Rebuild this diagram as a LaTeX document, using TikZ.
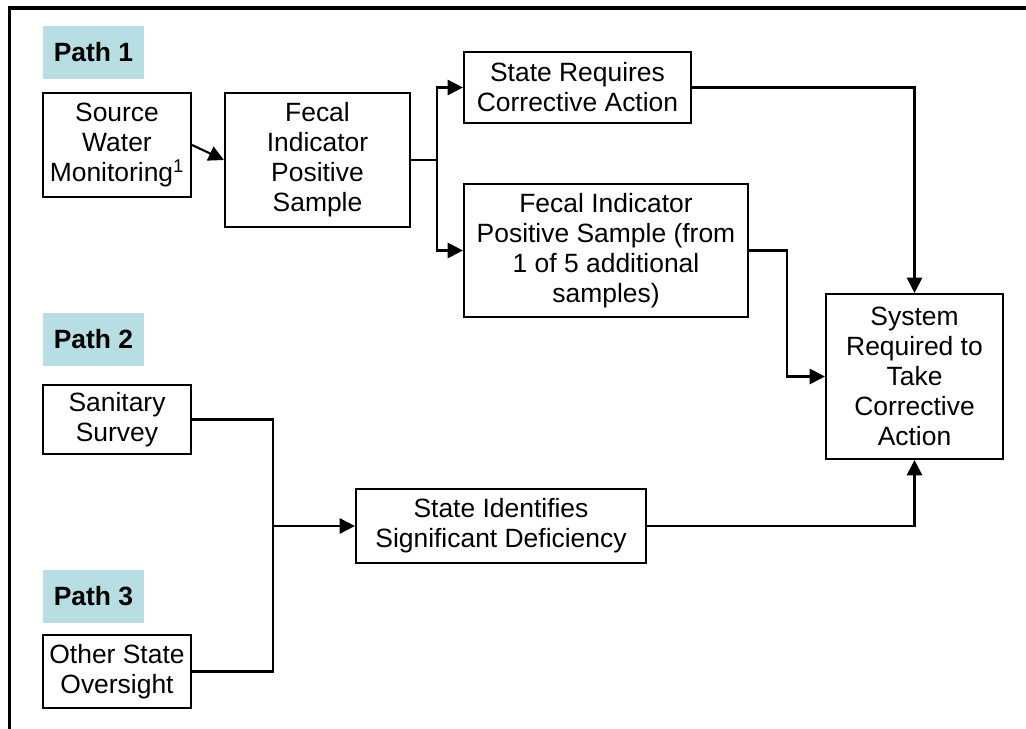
\documentclass[tikz,border=0pt]{standalone}
\usepackage{fontspec}
\setmainfont{Liberation Sans}
\usetikzlibrary{arrows.meta}
\definecolor{pathteal}{RGB}{183,223,227}
\tikzset{
  box/.style={draw, line width=1.5pt, fill=white, align=center, inner sep=0pt,
    font=\fontsize{18.8pt}{21.4pt}\selectfont},
  pathlbl/.style={fill=pathteal, inner sep=0pt, minimum width=2.525cm, minimum height=1.325cm,
    font=\fontsize{18.8pt}{21.4pt}\selectfont\bfseries},
  arr/.style={line width=1.5pt, -{Triangle[length=0.38cm, width=0.38cm]}},
  conn/.style={line width=1.5pt}
}
\begin{document}
\begin{tikzpicture}[x=0.025cm, y=-0.025cm]
\useasboundingbox (0,0) rectangle (1026,729);
% frame
\draw [line width=2.8pt] (9.5,729) -- (9.5,8) -- (1026,8);
% path labels
\node [pathlbl] (p1) at (93.5,52.5) {Path 1};
\node [pathlbl] (p2) at (93.5,339.5) {Path 2};
\node [pathlbl] (p3) at (93.5,596.5) {Path 3};
% boxes
\node [box, minimum width=3.7cm, minimum height=2.6cm] (src) at (117,145) {Source\\Water\\Monitoring\textsuperscript{1}};
\node [box, minimum width=4.625cm, minimum height=3.35cm] (fecal) at (317.5,160) {Fecal\\Indicator\\Positive\\Sample};
\node [box, minimum width=5.675cm, minimum height=1.775cm] (req) at (577.5,87.5) {State Requires\\Corrective Action};
\node [box, minimum width=7.1cm, minimum height=3.325cm] (fecalfive) at (606,250.5) {Fecal Indicator\\Positive Sample (from\\1 of 5 additional\\samples)};
\node [box, minimum width=4.425cm, minimum height=4.125cm] (sys) at (914.5,376.5) {System\\Required to\\Take\\Corrective\\Action};
\node [box, minimum width=3.7cm, minimum height=1.725cm] (san) at (117,419.5) {Sanitary\\Survey};
\node [box, minimum width=3.7cm, minimum height=1.825cm] (oth) at (117,671.5) {Other State\\Oversight};
\node [box, minimum width=7.25cm, minimum height=1.85cm] (sig) at (501,526) {State Identifies\\Significant Deficiency};
% branch points
\coordinate (br) at (437,160);
\coordinate (jn) at (273,526);
% connectors
\draw [arr] (src.east) -- (fecal.west);
\draw [conn] (fecal.east) -- (br);
\draw [arr] (br) |- (req.west);
\draw [arr] (br) |- (fecalfive.west);
\draw [arr] (req.east) -| (sys.north);
\draw [arr] (fecalfive.east) -- ++(38,0) |- (sys.west);
\draw [conn] (san.east) -| (jn);
\draw [conn] (oth.east) -| (jn);
\draw [arr] (jn) -- (sig.west);
\draw [arr] (sig.east) -| (sys.south);
\end{tikzpicture}
\end{document}
